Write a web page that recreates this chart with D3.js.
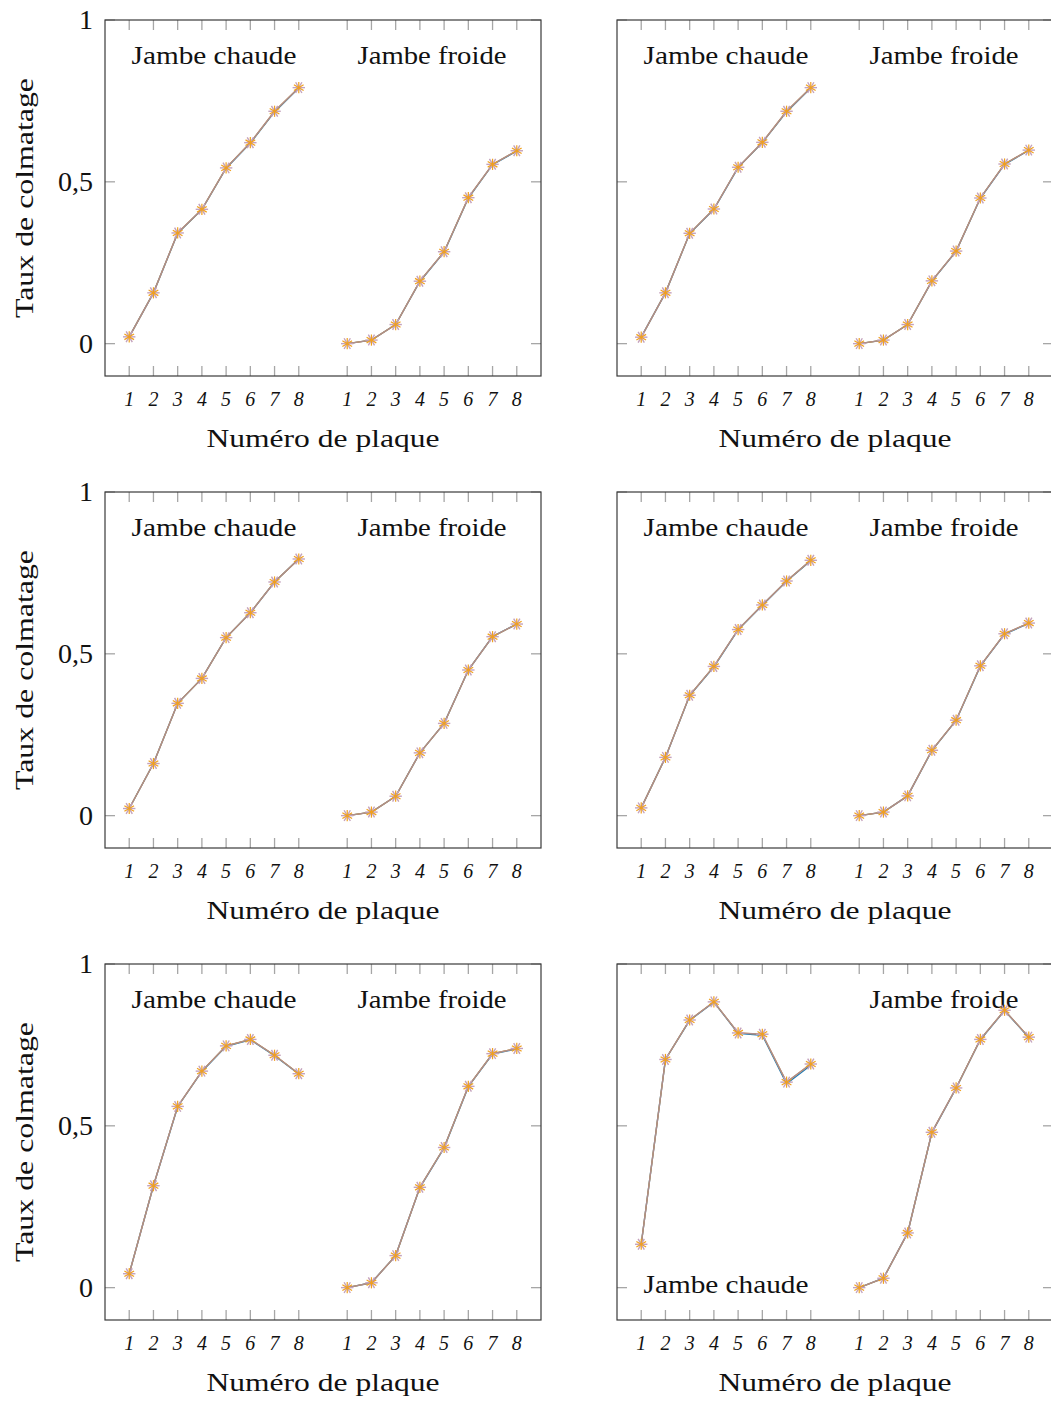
<!DOCTYPE html>
<html><head><meta charset="utf-8">
<script src="https://cdn.jsdelivr.net/npm/d3@7"></script>
<style>body{margin:0;background:#fff;} svg{display:block;}</style>
</head><body>
<svg id="chart" width="1051" height="1401"></svg>
<script>
// ---- data ----
const plateLabels = ["1","2","3","4","5","6","7","8"];
const yTickValues = [0, 0.5, 1];
const yTickLabels = ["0", "0,5", "1"];
const groupNames = ["Jambe chaude", "Jambe froide"];

// main (mauve / orange) series, per panel
const p1Chaude = [0.021, 0.157, 0.342, 0.415, 0.543, 0.621, 0.718, 0.791];
const p1Froide = [0.000, 0.011, 0.059, 0.193, 0.284, 0.451, 0.554, 0.596];
const p2Chaude = [0.020, 0.157, 0.341, 0.416, 0.545, 0.622, 0.718, 0.791];
const p2Froide = [0.000, 0.011, 0.059, 0.194, 0.286, 0.450, 0.555, 0.598];
const p3Chaude = [0.022, 0.161, 0.347, 0.424, 0.550, 0.627, 0.722, 0.793];
const p3Froide = [0.000, 0.011, 0.060, 0.194, 0.285, 0.450, 0.553, 0.592];
const p4Chaude = [0.024, 0.180, 0.372, 0.461, 0.575, 0.651, 0.725, 0.789];
const p4Froide = [0.000, 0.011, 0.061, 0.202, 0.295, 0.463, 0.562, 0.595];
const p5Chaude = [0.043, 0.315, 0.560, 0.669, 0.747, 0.767, 0.718, 0.661];
const p5Froide = [0.000, 0.015, 0.099, 0.310, 0.433, 0.622, 0.723, 0.739];
const p6Chaude = [0.134, 0.705, 0.827, 0.883, 0.787, 0.783, 0.635, 0.691];
const p6Froide = [0.000, 0.029, 0.169, 0.480, 0.617, 0.767, 0.857, 0.774];

// blue series (mostly hidden underneath)
const b1Chaude = [0.021, 0.157, 0.341, 0.414, 0.542, 0.620, 0.716, 0.790];
const b1Froide = [0.000, 0.011, 0.059, 0.192, 0.283, 0.450, 0.553, 0.595];
const b2Chaude = [0.020, 0.157, 0.340, 0.415, 0.544, 0.621, 0.716, 0.790];
const b2Froide = [0.000, 0.011, 0.059, 0.193, 0.285, 0.449, 0.554, 0.597];
const b3Chaude = [0.022, 0.161, 0.347, 0.424, 0.550, 0.627, 0.722, 0.793];
const b3Froide = [0.000, 0.011, 0.060, 0.194, 0.285, 0.450, 0.553, 0.592];
const b4Chaude = [0.024, 0.180, 0.371, 0.460, 0.574, 0.650, 0.724, 0.788];
const b4Froide = [0.000, 0.011, 0.061, 0.201, 0.294, 0.462, 0.561, 0.594];
const b5Chaude = [0.043, 0.315, 0.559, 0.668, 0.746, 0.766, 0.717, 0.660];
const b5Froide = [0.000, 0.015, 0.099, 0.309, 0.432, 0.621, 0.722, 0.738];
const b6Chaude = [0.134, 0.705, 0.826, 0.882, 0.786, 0.780, 0.630, 0.687];
const b6Froide = [0.000, 0.029, 0.169, 0.479, 0.616, 0.766, 0.856, 0.773];

const panelSeries = [
  {chaude: p1Chaude, froide: p1Froide, bChaude: b1Chaude, bFroide: b1Froide},
  {chaude: p2Chaude, froide: p2Froide, bChaude: b2Chaude, bFroide: b2Froide},
  {chaude: p3Chaude, froide: p3Froide, bChaude: b3Chaude, bFroide: b3Froide},
  {chaude: p4Chaude, froide: p4Froide, bChaude: b4Chaude, bFroide: b4Froide},
  {chaude: p5Chaude, froide: p5Froide, bChaude: b5Chaude, bFroide: b5Froide},
  {chaude: p6Chaude, froide: p6Froide, bChaude: b6Chaude, bFroide: b6Froide}
];

// ---- layout ----
const W = 436, H = 356;
const lefts = [105, 617];
const tops = [20, 492, 964];
const SERIF = "'Liberation Serif', 'Times New Roman', Times, serif";
const BLUE = "#1a7ab8", ORANGE = "#f0a01e", MAUVE_LINE = "#ad8d8d", MAUVE_MK = "#c4a2bc";

const svg = d3.select("#chart");

function asterisk(g, x, y, r, angles, color, sw) {
  angles.forEach(a => {
    const rad = a * Math.PI / 180;
    g.append("line")
      .attr("x1", x - r * Math.cos(rad)).attr("y1", y - r * Math.sin(rad))
      .attr("x2", x + r * Math.cos(rad)).attr("y2", y + r * Math.sin(rad))
      .attr("stroke", color).attr("stroke-width", sw);
  });
}

panelSeries.forEach((ps, idx) => {
  const col = idx % 2, row = Math.floor(idx / 2);
  const left = lefts[col], top = tops[row];
  const x = d3.scaleLinear().domain([0, 18]).range([left, left + W]);
  const y = d3.scaleLinear().domain([-0.1, 1]).range([top + H, top]);
  const g = svg.append("g");

  const chX = plateLabels.map((d, i) => i + 1);
  const frX = plateLabels.map((d, i) => i + 10);
  const allX = chX.concat(frX);

  // ticks (gray, inward, on all four sides)
  const tickCol = "#a6a6a6", tl = 10;
  allX.forEach(v => {
    g.append("line").attr("x1", x(v)).attr("x2", x(v)).attr("y1", top + H).attr("y2", top + H - tl)
      .attr("stroke", tickCol).attr("stroke-width", 1.3);
    g.append("line").attr("x1", x(v)).attr("x2", x(v)).attr("y1", top).attr("y2", top + tl)
      .attr("stroke", tickCol).attr("stroke-width", 1.3);
  });
  yTickValues.forEach(v => {
    g.append("line").attr("x1", left).attr("x2", left + tl).attr("y1", y(v)).attr("y2", y(v))
      .attr("stroke", tickCol).attr("stroke-width", 1.3);
    g.append("line").attr("x1", left + W).attr("x2", left + W - tl).attr("y1", y(v)).attr("y2", y(v))
      .attr("stroke", tickCol).attr("stroke-width", 1.3);
  });

  // frame
  g.append("rect").attr("x", left).attr("y", top).attr("width", W).attr("height", H)
    .attr("fill", "none").attr("stroke", "#3a3a3a").attr("stroke-width", 1.2);

  // x tick labels
  allX.forEach((v, i) => {
    g.append("text").attr("x", x(v)).attr("y", top + H + 30)
      .attr("text-anchor", "middle").attr("font-family", SERIF).attr("font-style", "italic")
      .attr("font-size", 20).attr("fill", "#111").text(plateLabels[i % 8]);
  });

  // x axis title
  g.append("text").attr("x", left + W / 2).attr("y", top + H + 71)
    .attr("text-anchor", "middle").attr("font-family", SERIF).attr("font-size", 26)
    .attr("textLength", 233).attr("lengthAdjust", "spacingAndGlyphs")
    .attr("fill", "#111").text("Numéro de plaque");

  if (col === 0) {
    yTickValues.forEach((v, i) => {
      g.append("text").attr("x", left - 12).attr("y", y(v) + 9)
        .attr("text-anchor", "end").attr("font-family", SERIF).attr("font-size", 28)
        .attr("fill", "#111").text(yTickLabels[i]);
    });
    g.append("text").attr("transform", `translate(33,${top + H / 2}) rotate(-90)`)
      .attr("text-anchor", "middle").attr("font-family", SERIF).attr("font-size", 26)
      .attr("textLength", 240).attr("lengthAdjust", "spacingAndGlyphs")
      .attr("fill", "#111").text("Taux de colmatage");
  }

  // group labels
  const chY = (idx === 5) ? top + H - 27 : top + 44;
  g.append("text").attr("x", x(4.5)).attr("y", chY)
    .attr("text-anchor", "middle").attr("font-family", SERIF).attr("font-size", 26)
    .attr("textLength", 165).attr("lengthAdjust", "spacingAndGlyphs")
    .attr("fill", "#111").text(groupNames[0]);
  g.append("text").attr("x", x(13.5)).attr("y", top + 44)
    .attr("text-anchor", "middle").attr("font-family", SERIF).attr("font-size", 26)
    .attr("textLength", 149).attr("lengthAdjust", "spacingAndGlyphs")
    .attr("fill", "#111").text(groupNames[1]);

  const line = d3.line().x(d => x(d[0])).y(d => y(d[1]));
  const groups = [
    {xs: chX, main: ps.chaude, blue: ps.bChaude},
    {xs: frX, main: ps.froide, blue: ps.bFroide}
  ];
  groups.forEach(gr => {
    const mainPts = gr.xs.map((v, i) => [v, gr.main[i]]);
    const bluePts = gr.xs.map((v, i) => [v, gr.blue[i]]);
    g.append("path").attr("d", line(bluePts)).attr("fill", "none")
      .attr("stroke", BLUE).attr("stroke-width", 1.4);
    g.append("path").attr("d", line(mainPts)).attr("fill", "none")
      .attr("stroke", ORANGE).attr("stroke-width", 1.2);
    g.append("path").attr("d", line(mainPts)).attr("fill", "none")
      .attr("stroke", MAUVE_LINE).attr("stroke-width", 1.4);
    mainPts.forEach(p => {
      asterisk(g, x(p[0]), y(p[1]), 6.2, [0, 60, 120], MAUVE_MK, 1.4);
      asterisk(g, x(p[0]), y(p[1]), 5.6, [90, 30, 150], ORANGE, 1.2);
    });
  });
});
</script>
</body></html>
